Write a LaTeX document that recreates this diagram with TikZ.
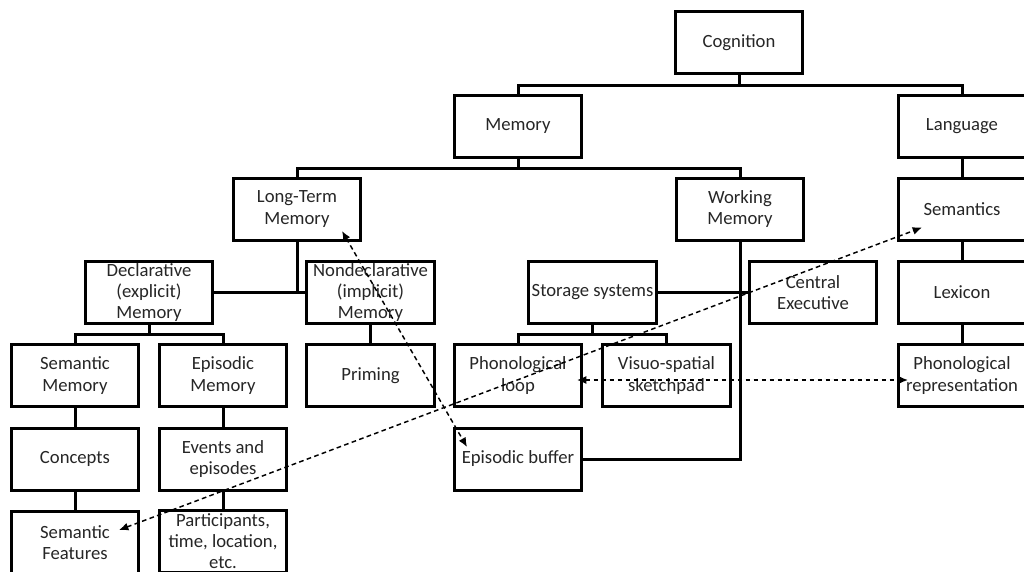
\documentclass[tikz,border=0pt]{standalone}
\usepackage{fontspec}
\setmainfont{Carlito}
\usetikzlibrary{arrows.meta,calc}
\begin{document}
\begin{tikzpicture}[x=0.75pt,y=-0.75pt,
  box/.style={draw=black,line width=2.25pt,minimum width=95.5pt,minimum height=46.5pt,
    inner sep=0pt,align=center,font=\fontsize{14}{16}\selectfont,text=black!85},
  conn/.style={draw=black,line width=2.25pt},
  dasharrow/.style={draw=black,line width=1.1pt,dash pattern=on 3.5pt off 2.5pt,
    {Latex[length=7pt,width=6pt]}-{Latex[length=7pt,width=6pt]}}]
\useasboundingbox (0,0) rectangle (1024,571);
\clip (0,0) rectangle (1024,571);
\fill[white] (0,0) rectangle (1024,571);
% nodes
\node[box] (cog) at (739,42.5) {Cognition};
\node[box] (mem) at (518,126) {Memory};
\node[box] (lang) at (962,126) {Language};
\node[box] (ltm) at (297,209) {Long-Term\\Memory};
\node[box] (wm) at (740,209) {Working\\Memory};
\node[box] (sem) at (962,209) {Semantics};
\node[box] (decl) at (149,292.5) {Declarative\\(explicit)\\Memory};
\node[box] (nondecl) at (370.5,292.5) {Nondeclarative\\(implicit)\\Memory};
\node[box] (stor) at (592.5,292.5) {Storage systems};
\node[box] (cexec) at (813,292.5) {Central\\Executive};
\node[box] (lex) at (962,292.5) {Lexicon};
\node[box] (semm) at (75,375.5) {Semantic\\Memory};
\node[box] (epim) at (223,375.5) {Episodic\\Memory};
\node[box] (prim) at (370.5,375.5) {Priming};
\node[box] (phl) at (518,375.5) {Phonological\\loop};
\node[box] (vss) at (666.5,375.5) {Visuo-spatial\\sketchpad};
\node[box] (phrep) at (962,375.5) {Phonological\\representation};
\node[box] (conc) at (75,459) {Concepts};
\node[box] (events) at (223,459) {Events and\\episodes};
\node[box] (ebuf) at (518,459) {Episodic buffer};
\node[box] (sf) at (75,542.5) {Semantic\\Features};
\node[box] (part) at (223,541) {Participants,\\time, location,\\etc.};
% junctions
\coordinate (j1) at (739,85);
\coordinate (j2) at (518,168);
\coordinate (j3) at (297,292.5);
\coordinate (j4) at (149,334);
\coordinate (j5) at (592.5,334);
% tree connectors
\draw[conn] (cog.south) -- (j1);
\draw[conn] (mem.north) |- (j1) -| (lang.north);
\draw[conn] (mem.south) -- (j2);
\draw[conn] (ltm.north) |- (j2) -| (wm.north);
\draw[conn] (lang.south) -- (sem.north);
\draw[conn] (sem.south) -- (lex.north);
\draw[conn] (lex.south) -- (phrep.north);
\draw[conn] (ltm.south) -- (j3);
\draw[conn] (decl.east) -- (nondecl.west);
\draw[conn] (wm.south) |- (ebuf.east);
\draw[conn] (stor.east) -- (cexec.west);
\draw[conn] (decl.south) -- (j4);
\draw[conn] (semm.north) |- (j4) -| (epim.north);
\draw[conn] (stor.south) -- (j5);
\draw[conn] (phl.north) |- (j5) -| (vss.north);
\draw[conn] (nondecl.south) -- (prim.north);
\draw[conn] (semm.south) -- (conc.north);
\draw[conn] (conc.south) -- (sf.north);
\draw[conn] (epim.south) -- (events.north);
\draw[conn] (events.south) -- (part.north);
% dashed links
\coordinate (d1) at ($(ltm.center)+(45,22)$);
\coordinate (d2) at ($(ebuf.center)+(-51,-12)$);
\coordinate (d3) at ($(sf.center)+(44,-12.5)$);
\coordinate (d4) at ($(sem.center)+(-40,18.5)$);
\coordinate (d5) at ($(phl.center)+(59,4.5)$);
\coordinate (d6) at ($(phrep.center)+(-54,4.5)$);
\draw[dasharrow] (d1) -- (d2);
\draw[dasharrow] (d3) -- (d4);
\draw[dasharrow] (d5) -- (d6);
\end{tikzpicture}
\end{document}
